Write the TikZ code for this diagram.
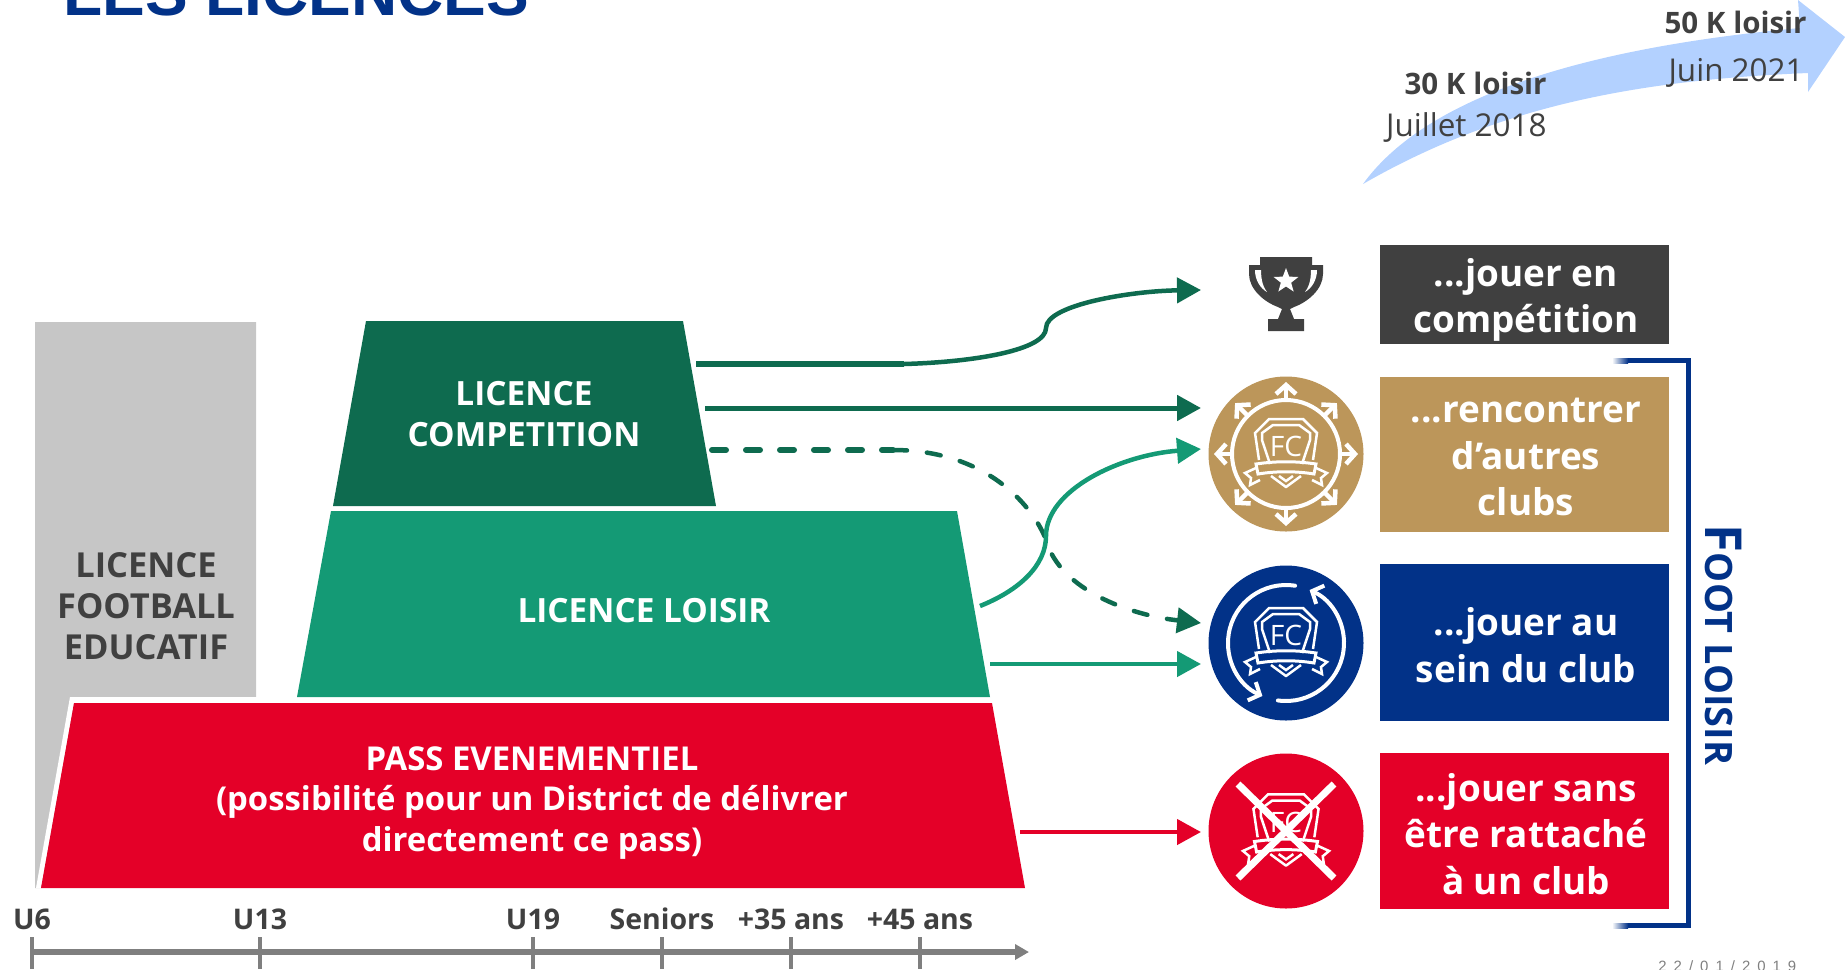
\documentclass[tikz,border=0pt]{standalone}
\usepackage{fontspec}
\setmainfont{Open Sans}
\newfontfamily\titlefont{Liberation Sans}
\usetikzlibrary{arrows.meta,shapes.geometric,calc}
\definecolor{compgreen}{HTML}{0E6B4F}
\definecolor{loisirgreen}{HTML}{149A75}
\definecolor{passred}{HTML}{E40028}
\definecolor{clubgold}{HTML}{BC965A}
\definecolor{clubblue}{HTML}{023288}
\definecolor{darktext}{HTML}{404040}
\definecolor{lightgrey}{HTML}{C6C6C6}
\definecolor{axisgrey}{HTML}{7F7F7F}
\definecolor{skyarrow}{HTML}{B3D1FF}
\tikzset{
  bighead/.style={-{Triangle[length=4.8mm,width=5mm]}},
  linktext/.style={font=\fontsize{19}{23.2}\selectfont\bfseries,align=center},
  boxfill/.style={inner sep=0pt,minimum width=57.8mm},
  boxtext/.style={font=\fontsize{21}{26.6}\selectfont\bfseries,align=center,text=white,inner sep=0pt},
  iconball/.style={circle,minimum size=31mm,inner sep=0pt},
  agetext/.style={font=\fontsize{16.2}{18}\selectfont\bfseries,text=darktext},
  skytext/.style={font=\fontsize{17.9}{20}\selectfont,text=darktext,anchor=east,inner sep=0pt},
  skybold/.style={skytext,font=\fontsize{16.8}{20}\selectfont\bfseries},
  fcshield/.pic={
    \draw[white,line width=.5mm] (-27,6)--(-31,-21)--(-17,-35)--(17,-35)--(31,-21)--(27,6);
    \draw[white,line width=.5mm] (-16,10)--(-24,-14)--(-24,-21)--(-13,-29)--(13,-29)--(24,-21)--(24,-14)--(16,10);
    \draw[white,line width=.6mm] (-30,10) .. controls (-10,7) and (10,7) .. (30,10)--(28,20) .. controls (10,17) and (-10,17) .. (-28,20)--cycle;
    \draw[white,line width=.5mm] (-30,14)--(-41,19)--(-35,24)--(-36,31)--(-26,26);
    \draw[white,line width=.5mm] (30,14)--(41,19)--(35,24)--(36,31)--(26,26);
    \draw[white,line width=.5mm,line join=round] (-15,22)--(0,33)--(15,22);
    \draw[white,line width=.5mm] (-7,22)--(0,27)--(7,22);
    \node[text=white,font=\fontsize{16}{16}\selectfont] (label) at (0,-8){FC};
  }
}
\begin{document}
\begin{tikzpicture}[x=.2mm,y=-.2mm,>=latex]
\useasboundingbox (0,0) rectangle (1845,969);

\node[anchor=base west,inner sep=0pt,text=clubblue,font=\titlefont\fontsize{36.4}{38}\selectfont\bfseries] (title) at (63,15){LES LICENCES};

\fill[skyarrow] (1363,184) .. controls (1420,105) and (1560,50) .. (1800,28)--(1798,0)--(1845,37)--(1808,92)--(1808,73) .. controls (1640,80) and (1500,105) .. (1363,184);
\node[skybold] (loisirA) at (1547,83){30 K loisir};
\node[skytext] (dateA) at (1547,127){Juillet 2018};
\node[skybold] (loisirB) at (1807,22){50 K loisir};
\node[skytext] (dateB) at (1804,73){Juin 2021};

\fill[lightgrey] (35,322)--(256,322)--(256,702)--(41,888)--(35,888)--cycle;
\fill[white] (36,888)--(70,697)--(258,697)--(258,703)--(74,703)--(41,888)--cycle;
\fill[compgreen] (366,321)--(683,321)--(716,506)--(333,506)--cycle;
\fill[loisirgreen] (331,511)--(957,511)--(990,697)--(297,697)--cycle;
\fill[passred] (74,703)--(992,703)--(1025,888)--(41,888)--cycle;

\node[linktext,text=darktext,font=\fontsize{19.6}{23.2}\selectfont\bfseries] (educatif) at (146,606){LICENCE\\FOOTBALL\\EDUCATIF};
\node[linktext,text=white] (competition) at (524,414){LICENCE\\COMPETITION};
\node[linktext,text=white] (loisir) at (644,611){LICENCE LOISIR};
\node[linktext,text=white,font=\fontsize{18.7}{23.2}\selectfont\bfseries] (pass) at (532,803){PASS EVENEMENTIEL\\(possibilité pour un District de délivrer\\directement ce pass)};

\draw[axisgrey,line width=1.2mm,-{Triangle[length=2.8mm,width=3mm]}] (32,952)--(1029,952);
\foreach \x/\xtext/\xname in {32/U6/ageA,260/U13/ageB,533/U19/ageC,662/Seniors/ageD,791/+35 ans/ageE,920/+45 ans/ageF}
{
    \draw[axisgrey,line width=.8mm] (\x,937)--(\x,969);
    \node[agetext] (\xname) at (\x,919){\xtext};
}

\coordinate (outA) at (696,364);
\coordinate (bendA) at (904,364);
\coordinate (inA) at (1201,290);
\coordinate (outB) at (705,408);
\coordinate (inB) at (1201,408);
\coordinate (outC) at (712,450);
\coordinate (bendC) at (893,450);
\coordinate (inC) at (1201,623);
\coordinate (outD) at (980,606);
\coordinate (inD) at (1201,449);
\coordinate (outE) at (990,664);
\coordinate (inE) at (1201,664);
\coordinate (outF) at (1020,832);
\coordinate (inF) at (1201,832);

\draw[compgreen,line width=1.3mm] (outA)--(bendA);
\draw[compgreen,line width=.9mm,bighead] (bendA) .. controls (975,362) and (1046,350) .. (1046,328) .. controls (1046,305) and (1130,291) .. (inA);
\draw[compgreen,line width=1mm,bighead] (outB)--(inB);
\draw[compgreen,line width=1.2mm,line cap=round,dash pattern=on 2.8mm off 4mm] (outC)--(bendC);
\draw[compgreen,line width=.9mm,line cap=round,dash pattern=on 2.8mm off 4mm,bighead] (bendC) .. controls (990,450) and (1035,510) .. (1046,540) .. controls (1060,590) and (1130,615) .. (inC);
\draw[loisirgreen,line width=.9mm,bighead] (outD) .. controls (1020,590) and (1046,565) .. (1046,536) .. controls (1046,490) and (1120,455) .. (inD);
\draw[loisirgreen,line width=.9mm,bighead] (outE)--(inE);
\draw[passred,line width=.9mm,bighead] (outF)--(inF);

\node[boxfill,fill=darktext,minimum height=19.8mm] (boxA) at (1524,294.5){};
\node[boxfill,fill=clubgold,minimum height=31mm] (boxB) at (1524,454){};
\node[boxfill,fill=clubblue,minimum height=31.3mm] (boxC) at (1524,642.5){};
\node[boxfill,fill=passred,minimum height=31.3mm] (boxD) at (1524,831){};
\node[boxtext] (textA) at (1526,300){...jouer en\\compétition};
\node[boxtext] (textB) at (1526,457){...rencontrer\\d’autres\\clubs};
\node[boxtext] (textC) at (1526,645){...jouer au\\sein du club};
\node[boxtext] (textD) at (1526,834){...jouer sans\\être rattaché\\à un club};

\begin{scope}[shift={(1286,294)}]
\fill[darktext] (-37,-29)--(-26,-29)--(-26,-37)--(26,-37)--(26,-29)--(37,-29)--(37,-20) .. controls (37,-5) and (22,8) .. (8,13)--(4,15)--(8,25)--(18,25)--(18,37)--(-18,37)--(-18,25)--(-8,25)--(-4,15)--(-8,13) .. controls (-22,8) and (-37,-5) .. (-37,-20)--cycle;
\foreach \s in {1,-1}
{
    \fill[white,xscale=\s] (-31,-24)--(-25,-24) .. controls (-25,-12) and (-22,-6) .. (-19,-2) .. controls (-26,-6) and (-31,-14) .. (-31,-24)--cycle;
}
\node[star,star points=5,star point ratio=2.4,fill=white,inner sep=0pt,minimum size=5.2mm] (cupstar) at (0,-13){};
\end{scope}

\node[iconball,fill=clubgold] (iconB) at (1286,454){};
\pic (goldfc) at (iconB) {fcshield};
\draw[white,line width=.8mm] (iconB) circle[radius=54];
\foreach \a in {0,45,...,315}
{
    \draw[white,line width=.9mm,-{Straight Barb[length=1.8mm,width=4mm]}] ($(iconB)+(\a:54)$)--($(iconB)+(\a:72)$);
}

\node[iconball,fill=clubblue] (iconC) at (1286,643){};
\pic (bluefc) at (iconC) {fcshield};
\draw[white,line width=.8mm,line cap=round,-{Straight Barb[length=1.8mm,width=4mm]}] ($(iconC)+(279:58)$) arc[start angle=279,end angle=114,radius=58];
\draw[white,line width=.8mm,line cap=round,-{Straight Barb[length=1.8mm,width=4mm]}] ($(iconC)+(98:58)$) arc[start angle=98,end angle=-66,radius=58];

\node[iconball,fill=passred] (iconD) at (1286,831){};
\pic[scale=1.05] (redfc) at (iconD) {fcshield};
\draw[white,line width=1.4mm] ($(iconD)+(-48,-47)$)--($(iconD)+(48,47)$);
\draw[white,line width=1.4mm] ($(iconD)+(48,-47)$)--($(iconD)+(-48,47)$);

\coordinate (brackettop) at (1628,360.5);
\coordinate (bracketbottom) at (1628,925.5);
\fill[left color=white,right color=clubblue] (1612,358) rectangle (1628,363);
\fill[left color=white,right color=clubblue] (1612,923) rectangle (1628,928);
\draw[clubblue,line width=1mm] (brackettop)-|(1688,925.5)--(bracketbottom);
\node[rotate=-90,text=clubblue,font=\fontsize{21.5}{24}\selectfont\bfseries] (footloisir) at (1723,645){{\fontsize{29}{24}\selectfont F}OOT LOISIR};

\node[anchor=base west,inner sep=0pt,text=axisgrey,font=\titlefont\fontsize{8.5}{10}\selectfont\addfontfeature{LetterSpace=47}] (datestamp) at (1658,971){22/01/2019};
\end{tikzpicture}
\end{document}
